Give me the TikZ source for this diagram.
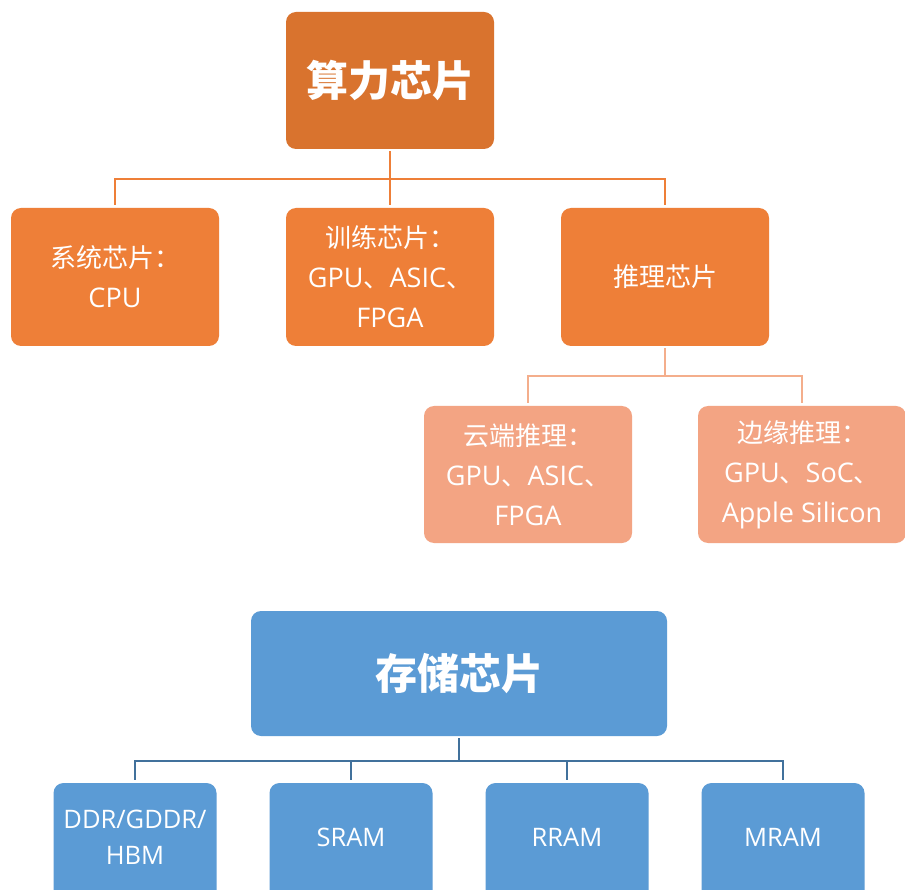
\documentclass[tikz,border=0pt]{standalone}
\usepackage{fontspec}
\setmainfont{Noto Sans CJK SC}
\newfontfamily\lat[Scale=1.04]{Open Sans}
\begin{document}
\begin{tikzpicture}[x=1pt,y=-1pt,
  box/.style={rounded corners=10pt, text=white, align=center, inner sep=0pt, font=\fontsize{26}{40}\selectfont},
  l1/.style={box, fill=orangeD, minimum width=208pt, minimum height=137pt},
  l2/.style={box, fill=orangeM, minimum width=208pt, minimum height=138pt},
  l3/.style={box, fill=orangeL, minimum width=208pt, minimum height=137pt},
  s1/.style={box, fill=blueM, minimum width=416pt, minimum height=125pt},
  s2/.style={box, fill=blueM, minimum width=163pt, minimum height=120pt},
  stext/.style={text=white, align=center, inner sep=0pt, font=\fontsize{24.5}{36}\selectfont\lat},
  title/.style={font=\fontsize{42}{48}\bfseries\selectfont},
  oline/.style={draw=orangeM, line width=2.6pt},
  lline/.style={draw=orangeLine, line width=2.6pt},
  bline/.style={draw=blueLine, line width=2.6pt}
]
\definecolor{orangeD}{HTML}{D9732E}
\definecolor{orangeM}{HTML}{EE7F38}
\definecolor{orangeL}{HTML}{F3A483}
\definecolor{orangeLine}{HTML}{F4AE8C}
\definecolor{blueM}{HTML}{5B9BD5}
\definecolor{blueLine}{HTML}{41719C}
\useasboundingbox (0,0) rectangle (905,890);
\clip (0,0) rectangle (905,890);
\fill[white] (0,0) rectangle (905,890);

\node[l1,title] (top) at (390,80.5) {算力芯片};
\node[l2] (a) at (115,277) {系统芯片：\\{\lat CPU}};
\node[l2] (b) at (390,277) {训练芯片：\\{\lat GPU}、{\lat ASIC}、\\{\lat FPGA}};
\node[l2] (c) at (665,277) {推理芯片};
\node[l3] (d) at (528,474.5) {云端推理：\\{\lat GPU}、{\lat ASIC}、\\{\lat FPGA}};
\node[l3] (e) at (802,474.5) {边缘推理：\\{\lat GPU}、{\lat SoC}、\\{\lat Apple Silicon}};

\node[s1,title] (s) at (459,673.5) {存储芯片};
\node[s2] (m1) at (135,843) {};
\node[s2] (m2) at (351,843) {};
\node[s2] (m3) at (567,843) {};
\node[s2] (m4) at (783,843) {};
\node[stext] (t1) at ([yshift=6pt]m1.center) {DDR/GDDR/\\HBM};
\node[stext] (t2) at ([yshift=6pt]m2.center) {SRAM};
\node[stext] (t3) at ([yshift=6pt]m3.center) {RRAM};
\node[stext] (t4) at ([yshift=6pt]m4.center) {MRAM};

\coordinate (bus1) at (390,179);
\coordinate (bus2) at (665,376);
\coordinate (bus3) at (459,761);

\draw[oline] ([yshift=-2pt]top.south) -- (bus1);
\draw[oline] ([yshift=3pt]a.north) |- (bus1) -| ([yshift=3pt]c.north);
\draw[oline] (bus1) -- ([yshift=3pt]b.north);

\draw[lline] ([yshift=-2pt]c.south) -- (bus2);
\draw[lline] ([yshift=3pt]d.north) |- (bus2) -| ([yshift=3pt]e.north);

\draw[bline] ([yshift=-2pt]s.south) -- (bus3);
\draw[bline] ([yshift=3pt]m1.north) |- (bus3) -| ([yshift=3pt]m4.north);
\draw[bline] ([yshift=3pt]m2.north) -- (m2.north |- bus3);
\draw[bline] ([yshift=3pt]m3.north) -- (m3.north |- bus3);
\end{tikzpicture}
\end{document}
